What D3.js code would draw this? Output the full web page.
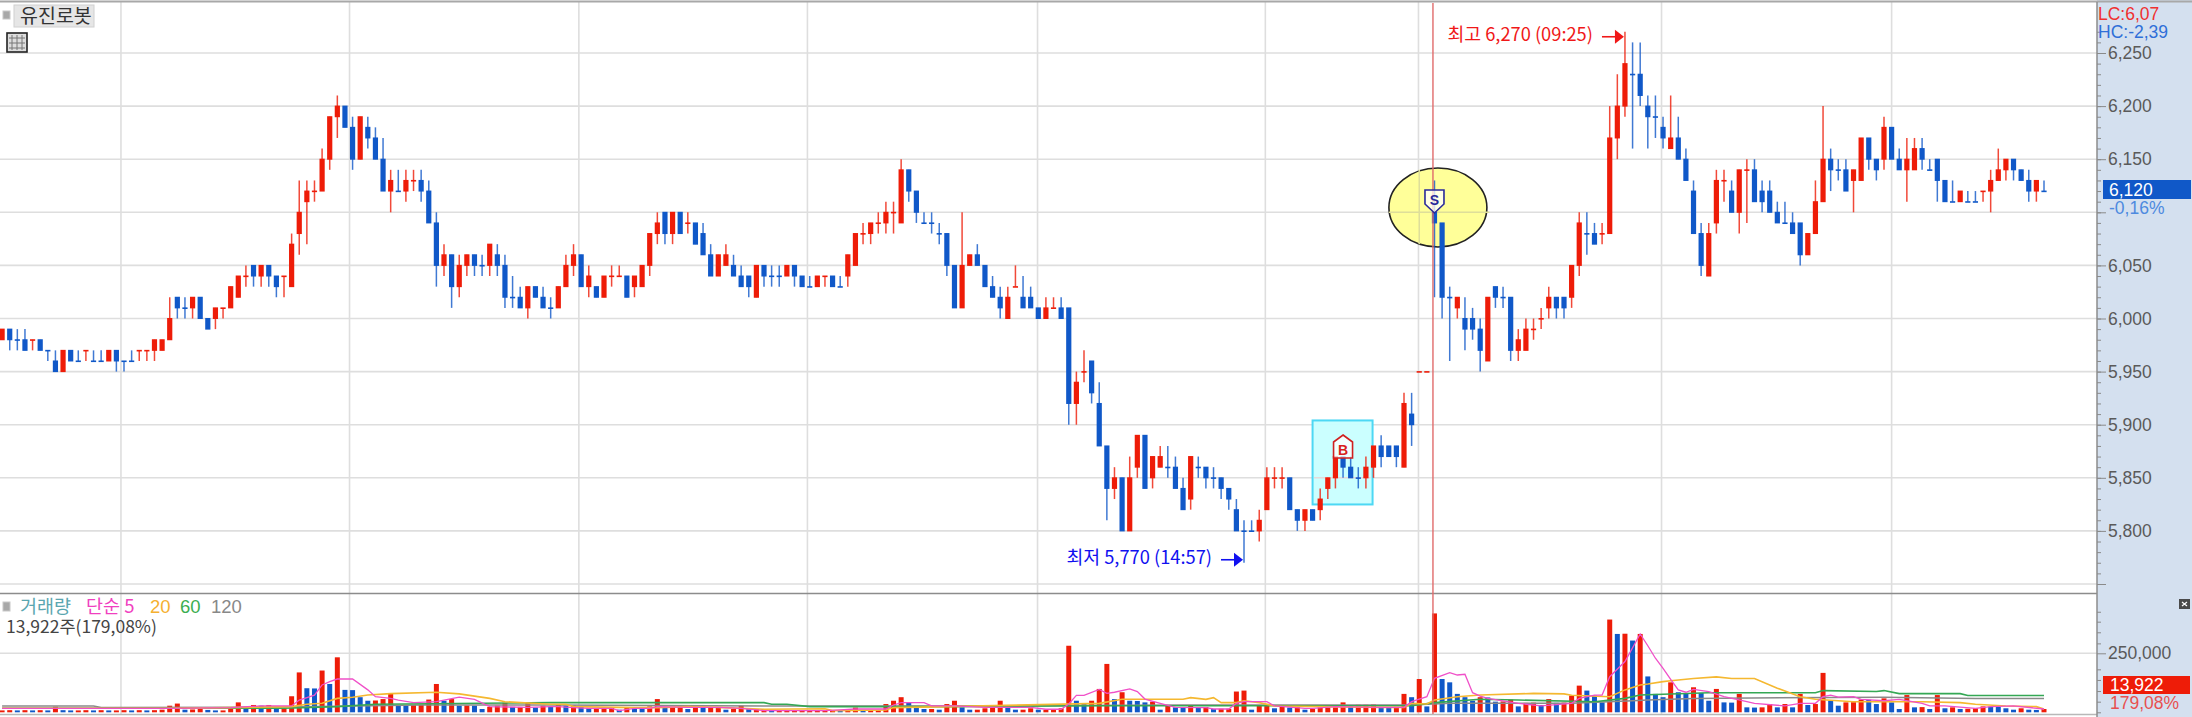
<!DOCTYPE html>
<html>
<head>
<meta charset="utf-8">
<script src="https://cdn.jsdelivr.net/npm/d3@7"></script>
<style>
  body { margin: 0; background: #fff; }
  svg { display: block; }
  text { font-family: "Noto Sans CJK KR", "Liberation Sans", sans-serif; }
  .num { font-family: "Liberation Sans", sans-serif; }
</style>
</head>
<body>
<svg id="chart"></svg>
<script>
// candle values
const opens = [
  5980,5990,5980,5980,5980,5980,5970,5960,5950,5970,
  5960,5970,5960,5960,5960,5970,5960,5960,5970,5970,
  5970,5970,5980,6020,6010,6010,6020,6000,6000,6010,
  6010,6020,6040,6050,6040,6050,6040,6040,6030,6080,
  6110,6120,6120,6150,6190,6200,6180,6150,6180,6170,
  6150,6120,6120,6120,6130,6130,6120,6090,6050,6060,
  6030,6050,6060,6050,6050,6060,6050,6020,6020,6010,
  6030,6020,6010,6010,6030,6050,6060,6030,6030,6020,
  6040,6040,6040,6030,6030,6050,6080,6100,6080,6100,
  6090,6090,6080,6060,6040,6050,6050,6040,6040,6020,
  6050,6040,6040,6040,6050,6040,6030,6030,6040,6040,
  6030,6040,6050,6080,6080,6090,6090,6100,6090,6140,
  6120,6090,6090,6080,6080,6050,6010,6050,6060,6050,
  6030,6020,6000,6030,6020,6020,6010,6000,6010,6010,
  6010,5920,5950,5960,5920,5880,5840,5850,5800,5860,
  5890,5850,5860,5860,5860,5840,5830,5860,5860,5850,
  5850,5840,5820,5800,5800,5800,5820,5850,5850,5850,
  5820,5810,5820,5820,5840,5850,5870,5860,5850,5850,
  5860,5880,5880,5880,5860,5910,5950,5950,6100,6090,
  6020,6010,6000,6000,5990,5960,6030,6020,6020,5970,
  5970,5990,6000,6010,6020,6020,6020,6050,6080,6080,
  6080,6080,6170,6200,6230,6230,6200,6190,6180,6160,
  6170,6150,6120,6080,6040,6090,6130,6120,6100,6140,
  6140,6120,6120,6100,6090,6090,6090,6060,6080,6110,
  6150,6140,6140,6130,6130,6170,6150,6150,6180,6150,
  6140,6140,6160,6140,6150,6130,6110,6110,6110,6110,
  6120,6120,6130,6140,6150,6140,6130,6120,6120
];
const closes = [
  5990,5980,5980,5970,5980,5970,5970,5950,5970,5960,
  5960,5970,5960,5960,5970,5960,5960,5960,5970,5970,
  5980,5980,6000,6010,6010,6020,6000,5990,6010,6010,
  6030,6040,6040,6040,6050,6040,6030,6040,6070,6100,
  6120,6120,6150,6190,6200,6180,6150,6190,6170,6150,
  6120,6130,6120,6130,6130,6120,6090,6050,6060,6030,
  6050,6060,6050,6050,6070,6050,6020,6020,6010,6030,
  6020,6010,6010,6030,6050,6060,6030,6040,6020,6040,
  6040,6040,6020,6040,6050,6080,6090,6080,6100,6080,
  6090,6070,6060,6040,6060,6060,6040,6030,6030,6050,
  6040,6040,6040,6050,6040,6030,6030,6040,6040,6030,
  6030,6060,6080,6080,6090,6090,6100,6100,6140,6120,
  6100,6090,6090,6080,6050,6010,6050,6060,6050,6030,
  6020,6010,6020,6030,6010,6010,6000,6010,6010,6000,
  5920,5940,5950,5930,5880,5840,5850,5800,5850,5890,
  5840,5870,5870,5860,5840,5820,5870,5860,5850,5850,
  5840,5830,5800,5800,5800,5810,5850,5850,5850,5820,
  5810,5820,5810,5830,5850,5870,5860,5850,5850,5860,
  5880,5870,5870,5870,5920,5900,5950,5950,6090,6020,
  6020,6020,5990,5990,5970,6020,6020,6020,5970,5980,
  5990,5990,6000,6020,6010,6010,6050,6090,6080,6070,
  6080,6170,6200,6240,6230,6210,6190,6190,6170,6170,
  6150,6130,6080,6050,6080,6130,6130,6100,6140,6140,
  6110,6110,6100,6090,6090,6080,6060,6080,6110,6150,
  6140,6140,6120,6140,6170,6150,6140,6180,6150,6140,
  6150,6160,6150,6140,6130,6110,6110,6120,6110,6110,
  6120,6130,6140,6150,6140,6130,6120,6130,6120
];
const highs = [
  5990,5990,5990,5990,5980,5980,5970,5970,5970,5970,
  5970,5970,5970,5970,5970,5970,5960,5970,5970,5970,
  5980,5980,6020,6020,6020,6020,6020,6000,6010,6010,
  6030,6040,6050,6050,6050,6050,6040,6040,6080,6130,
  6130,6130,6160,6190,6210,6200,6190,6190,6190,6180,
  6170,6140,6140,6140,6140,6140,6130,6100,6070,6060,
  6060,6060,6060,6060,6070,6070,6060,6040,6030,6030,
  6030,6030,6020,6030,6060,6070,6060,6050,6030,6040,
  6050,6050,6040,6040,6050,6080,6100,6100,6100,6100,
  6100,6090,6090,6070,6060,6070,6060,6050,6040,6050,
  6050,6050,6050,6050,6050,6040,6040,6040,6040,6040,
  6040,6060,6080,6090,6090,6100,6110,6110,6150,6140,
  6120,6100,6100,6090,6080,6050,6100,6060,6070,6050,
  6040,6030,6030,6050,6040,6030,6010,6020,6020,6020,
  6010,5950,5970,5960,5940,5880,5860,5850,5870,5890,
  5890,5870,5880,5880,5870,5850,5870,5870,5860,5860,
  5850,5840,5830,5810,5810,5820,5860,5860,5860,5850,
  5820,5820,5820,5840,5850,5870,5870,5870,5860,5870,
  5880,5890,5880,5880,5930,5930,5950,5950,6130,6090,
  6030,6020,6020,6010,6000,6020,6030,6030,6020,5990,
  6000,6000,6010,6030,6020,6020,6050,6100,6100,6090,
  6090,6200,6230,6270,6260,6260,6210,6210,6190,6210,
  6190,6160,6130,6090,6090,6140,6140,6130,6140,6150,
  6150,6130,6130,6110,6110,6100,6090,6080,6130,6200,
  6160,6150,6150,6140,6170,6170,6150,6190,6180,6160,
  6170,6170,6170,6150,6150,6130,6130,6120,6120,6120,
  6120,6140,6160,6150,6150,6140,6140,6130,6130
];
const lows = [
  5980,5970,5970,5970,5970,5970,5960,5950,5950,5960,
  5960,5960,5960,5960,5960,5950,5950,5960,5960,5960,
  5960,5970,5980,6000,6000,6000,6000,5990,5990,6000,
  6010,6020,6030,6030,6030,6030,6020,6020,6030,6060,
  6070,6110,6120,6140,6170,6180,6140,6150,6160,6150,
  6120,6100,6120,6110,6120,6110,6090,6030,6040,6010,
  6020,6040,6040,6040,6040,6040,6010,6010,6010,6000,
  6020,6010,6000,6010,6030,6040,6030,6020,6020,6020,
  6030,6040,6020,6020,6030,6040,6070,6070,6070,6080,
  6080,6070,6060,6040,6040,6050,6040,6030,6020,6020,
  6030,6030,6030,6040,6030,6030,6030,6030,6030,6030,
  6030,6030,6050,6070,6070,6080,6080,6080,6090,6110,
  6090,6090,6080,6070,6040,6010,6010,6050,6050,6030,
  6020,6000,6000,6030,6010,6010,6000,6000,6010,6000,
  5900,5900,5940,5920,5880,5810,5830,5800,5800,5850,
  5840,5840,5860,5850,5840,5820,5820,5850,5840,5840,
  5830,5820,5800,5770,5800,5790,5820,5840,5840,5820,
  5800,5800,5810,5810,5830,5840,5850,5850,5840,5840,
  5850,5860,5870,5860,5860,5880,5950,5950,6020,6000,
  5960,6000,5970,5980,5950,5960,6010,6010,5960,5960,
  5970,5980,5990,6000,6000,6000,6010,6040,6060,6070,
  6070,6080,6150,6190,6160,6200,6160,6170,6160,6160,
  6150,6130,6080,6040,6040,6080,6110,6100,6080,6090,
  6110,6100,6100,6090,6090,6080,6050,6060,6080,6110,
  6120,6130,6120,6100,6130,6140,6130,6140,6150,6140,
  6110,6140,6140,6140,6110,6110,6110,6110,6110,6110,
  6110,6100,6130,6130,6130,6130,6110,6110,6120
];
// candles with open == close that are drawn red
const redDojis = [4,11,18,19,29,32,37,41,54,80,81,90,108,113,115,117,133,138,142,167,168,186,187,201,202,210,226,229,260];

// volume in thousands of shares
const volumes = [
  8,9,8,9,8,9,8,24,9,8,
  8,9,8,9,8,8,9,8,9,8,
  9,11,28,37,11,12,14,10,8,8,
  17,42,20,31,28,31,14,17,68,169,
  102,101,177,120,233,95,94,64,49,50,
  56,78,31,30,31,31,54,120,49,56,
  28,29,28,14,23,28,40,23,23,40,
  20,28,25,31,28,29,25,17,17,20,
  20,11,20,17,14,25,56,20,20,25,
  14,23,20,20,20,11,14,28,14,14,
  14,8,8,8,8,8,8,8,8,8,
  7,7,20,8,8,8,35,49,64,40,
  25,14,14,11,35,49,21,11,11,17,
  23,49,23,11,11,17,11,11,11,17,
  282,49,35,49,99,205,56,85,49,48,
  42,45,11,31,21,20,31,21,22,14,
  15,15,88,92,11,28,29,17,25,20,
  21,11,14,20,20,21,42,31,32,32,
  33,23,20,23,78,64,141,25,419,141,
  127,78,64,49,64,63,45,46,54,25,
  40,41,31,56,40,41,71,113,92,71,
  42,393,332,333,304,332,152,78,64,127,
  85,78,106,82,49,99,42,41,78,21,
  20,21,35,21,35,21,78,31,35,167,
  49,28,42,43,54,53,35,59,42,14,
  73,21,22,14,73,17,21,14,15,17,
  25,24,23,17,11,17,11,10,13.922
];

// moving average lines: candle number and reading at each bend
const ma5At = [0,10,22,30,34,36,38,39,41,42,43,44,46,48,49,51,52,54,57,58,60,62,64,69,72,73,75,77,80,81,83,85,86,90,94,97,100,108,110,112,116,117,118,121,122,125,129,130,135,137,139,140,141,142,144,145,146,148,149,150,152,154,158,159,161,162,163,166,167,171,172,175,181,184,185,187,188,190,191,192,193,194,195,199,202,206,207,209,210,211,213,215,216,217,218,219,220,221,222,224,226,229,230,234,236,238,239,240,241,243,244,247,249,252,253,255,259,261,264,268];
const ma5Vals = [17,17,17,20,27,27,27,52,73,116,130,141,141,95,66,59,52,41,45,52,64,55,24,21,24,24,20,17,17,7,17,17,24,21,21,17,7,7,10,14,14,31,41,41,27,27,21,21,21,13,13,35,72,72,97,80,85,99,88,56,38,21,20,14,14,38,45,45,27,17,17,24,21,21,45,66,144,168,158,161,83,69,59,38,27,38,59,73,73,151,215,332,282,229,186,140,95,85,97,88,66,45,38,27,38,38,66,73,64,66,55,49,55,38,27,27,17,24,27,14];
const ma20At = [0,22,30,38,40,42,44,46,48,51,57,60,64,66,72,74,75,83,86,90,94,100,108,109,116,117,124,144,147,155,156,158,159,160,162,163,165,167,181,184,185,187,188,191,194,201,205,206,211,213,215,216,218,219,222,225,227,230,233,236,238,243,252,257,259,263,267,268];
const ma20Vals = [17,17,20,24,34,38,59,64,73,79,85,78,59,45,34,34,24,20,20,24,21,13,15,7,10,20,24,38,55,55,62,55,62,41,41,49,41,27,21,21,38,35,52,66,73,80,78,72,66,95,116,120,130,134,143,150,143,143,102,66,55,45,45,41,34,27,24,14];
const ma60At = [0,27,37,44,49,72,100,101,103,106,124,144,185,188,194,199,209,213,215,224,238,239,246,247,249,257,258,268];
const ma60Vals = [17,17,17,24,34,41,41,34,34,24,24,28,28,41,55,52,45,59,73,83,83,92,88,92,79,79,71,71];
const ma120At = [0,12,13,37,55,72,100,124,155,185,190,206,214,216,222,247,259,268];
const ma120Vals = [27,27,20,22,31,31,27,27,31,31,38,38,49,52,59,64,59,59];

// axis ticks
const priceTicks = [6250,6200,6150,6100,6050,6000,5950,5900,5850,5800,5750];
const priceLabels = [6250,6200,6150,6050,6000,5950,5900,5850,5800];
const priceMinorTicks = d3.range(5750, 6280, 10);
const volTicks = [250];
const volMinorTicks = [0,45,90,137,182,292,339,384,426];
// candle numbers of the vertical grid lines
const timeGrid = [15.6,45.6,75.7,105.7,135.9,165.8,185.9,217.8,248];

const width = 2192, height = 717;
const plotRight = 2097;
const red = "#ee1c08", blue = "#1058c8";

const svg = d3.select("#chart").attr("width", width).attr("height", height);

const x = d3.scaleLinear().domain([0, opens.length - 1]).range([2.1, 2044]);
const yPrice = d3.scaleLinear().domain([6250, 5750]).range([53, 584]);
const yVol = d3.scaleLinear().domain([0, 250]).range([712.3, 653.3]);

// right side panel
svg.append("rect").attr("x", plotRight).attr("y", 0).attr("width", width - plotRight).attr("height", height).attr("fill", "#d4e0ef");

// grid
const grid = svg.append("g").attr("stroke", "#dedede").attr("stroke-width", 1.6);
grid.selectAll(".gx").data(timeGrid).enter().append("line")
  .attr("x1", d => x(d)).attr("x2", d => x(d)).attr("y1", 2).attr("y2", 715);
grid.selectAll(".gy").data(priceTicks).enter().append("line")
  .attr("x1", 0).attr("x2", plotRight).attr("y1", d => yPrice(d)).attr("y2", d => yPrice(d));
grid.selectAll(".gv").data(volTicks).enter().append("line")
  .attr("x1", 0).attr("x2", plotRight).attr("y1", d => yVol(d)).attr("y2", d => yVol(d));

// buy box and sell ellipse sit under the candles
svg.append("rect").attr("x", x(172)).attr("y", yPrice(5904)).attr("width", 60).attr("height", 84)
  .attr("fill", "#c8ffff").attr("fill-opacity", 0.95).attr("stroke", "#4dd8f4").attr("stroke-width", 2);
svg.append("line").attr("x1", x(172.2)).attr("x2", x(179.6)).attr("y1", yPrice(5850)).attr("y2", yPrice(5850))
  .attr("stroke", "#e4dada").attr("stroke-width", 1.5);
svg.append("ellipse").attr("cx", x(188.45)).attr("cy", yPrice(6104.5)).attr("rx", 49).attr("ry", 39.5)
  .attr("fill", "#ffff99").attr("stroke", "#222").attr("stroke-width", 1.6);
svg.append("line").attr("x1", x(182)).attr("x2", x(195.2)).attr("y1", yPrice(6100)).attr("y2", yPrice(6100))
  .attr("stroke", "#dede9a").attr("stroke-width", 1.5);
svg.append("line").attr("x1", x(186)).attr("x2", x(186)).attr("y1", yPrice(6140)).attr("y2", yPrice(6070))
  .attr("stroke", "#dede9a").attr("stroke-width", 1.5);

// candles
const candleColor = i => closes[i] > opens[i] || redDojis.includes(i) ? red : blue;
const candleData = opens.map((o, i) => i);
const candles = svg.append("g");
candles.selectAll(".wick").data(candleData).enter().append("line")
  .attr("x1", i => x(i)).attr("x2", i => x(i))
  .attr("y1", i => yPrice(highs[i])).attr("y2", i => yPrice(lows[i]))
  .attr("stroke", candleColor).attr("stroke-opacity", 0.8).attr("stroke-width", 1.5);
candles.selectAll(".body").data(candleData).enter().append("rect")
  .attr("x", i => x(i) - 2.6).attr("width", 5.2)
  .attr("y", i => yPrice(Math.max(opens[i], closes[i])) - 0.5)
  .attr("height", i => Math.max(1.6, Math.abs(yPrice(opens[i]) - yPrice(closes[i])) + 1))
  .attr("fill", candleColor);

// volume bars: red when volume rose, blue when it fell
const volColor = i => i === 0 || volumes[i] >= volumes[i - 1] ? red : blue;
svg.append("g").selectAll("rect").data(candleData).enter().append("rect")
  .attr("x", i => x(i) - 2.5).attr("width", 5)
  .attr("y", i => yVol(volumes[i])).attr("height", i => yVol(0) - yVol(volumes[i]))
  .attr("fill", volColor);

// moving averages
const drawMa = (at, vals, color, w) => {
  const line = d3.line().x(d => x(d[0])).y(d => yVol(d[1]));
  svg.append("path").attr("d", line(at.map((a, i) => [a, vals[i]])))
    .attr("fill", "none").attr("stroke", color).attr("stroke-width", w);
};
drawMa(ma120At, ma120Vals, "#8a8a8a", 1.5);
drawMa(ma60At, ma60Vals, "#35a855", 1.6);
drawMa(ma20At, ma20Vals, "#f5b830", 1.6);
drawMa(ma5At, ma5Vals, "#f050c8", 1.3);

// panel separators and frame
svg.append("line").attr("x1", 0).attr("x2", plotRight).attr("y1", 593.5).attr("y2", 593.5).attr("stroke", "#8c8c8c").attr("stroke-width", 1.5);
svg.append("line").attr("x1", 0).attr("x2", plotRight).attr("y1", 714.5).attr("y2", 714.5).attr("stroke", "#b8b8b8").attr("stroke-width", 1.5);
svg.append("line").attr("x1", 0).attr("x2", width).attr("y1", 1.5).attr("y2", 1.5).attr("stroke", "#a8a8a8").attr("stroke-width", 2);
svg.append("line").attr("x1", plotRight).attr("x2", plotRight).attr("y1", 2).attr("y2", height).attr("stroke", "#8c8c8c").attr("stroke-width", 1.5);

// the red marker line of the signal candle
svg.append("line").attr("x1", x(187.8)).attr("x2", x(187.8)).attr("y1", 3).attr("y2", 714)
  .attr("stroke", "#e06a6a").attr("stroke-width", 1.4);

// axes
const styleAxis = g => {
  g.select(".domain").remove();
  g.selectAll("line").attr("stroke", "#8a8a8a");
  g.selectAll("text").attr("class", "num").attr("fill", "#5a5a5a").attr("font-size", 17.5);
};
svg.append("g").attr("transform", `translate(${plotRight},0)`)
  .call(d3.axisRight(yPrice).tickValues(priceMinorTicks).tickSize(4).tickFormat(""))
  .call(styleAxis);
svg.append("g").attr("transform", `translate(${plotRight},0)`)
  .call(d3.axisRight(yPrice).tickValues(priceTicks).tickSize(9).tickPadding(2)
    .tickFormat(d => priceLabels.includes(d) ? d3.format(",")(d) : ""))
  .call(styleAxis);
svg.append("g").attr("transform", `translate(${plotRight},0)`)
  .call(d3.axisRight(yVol).tickValues(volMinorTicks).tickSize(4).tickFormat(""))
  .call(styleAxis);
svg.append("g").attr("transform", `translate(${plotRight},0)`)
  .call(d3.axisRight(yVol).tickValues(volTicks).tickSize(9).tickPadding(2).tickFormat(d => d3.format(",")(d * 1000)))
  .call(styleAxis);

// text helper
const label = (str, px, py, color, size, cls) => svg.append("text")
  .attr("x", px).attr("y", py).attr("dy", "0.36em").attr("fill", color).attr("font-size", size)
  .attr("class", cls || null).text(str);

// right panel values
label("LC:6,07", 2098, 14, "#f03030", 17.5, "num");
label("HC:-2,39", 2098, 32, "#2f6fd8", 17.5, "num");
svg.append("rect").attr("x", 2103).attr("y", 180).attr("width", 88).attr("height", 19).attr("fill", blue);
label("6,120", 2109, 189.5, "#fff", 17.5, "num");
label("-0,16%", 2109, 208, "#4d8adf", 17.5, "num");
svg.append("rect").attr("x", 2103).attr("y", 676).attr("width", 87).attr("height", 18).attr("fill", red);
label("13,922", 2110, 685, "#fff", 17.5, "num");
label("179,08%", 2110, 703, "#e85050", 17.5, "num");
svg.append("rect").attr("x", 2179).attr("y", 599).attr("width", 11).attr("height", 10).attr("fill", "#4a4a4a");
svg.append("path").attr("d", "M2182 602L2187 606M2187 602L2182 606").attr("stroke", "#fff").attr("stroke-width", 1.2);

// title buttons
svg.append("rect").attr("x", 3).attr("y", 11).attr("width", 7).attr("height", 8).attr("fill", "#a8a8a8").attr("stroke", "#c8c8c8");
svg.append("rect").attr("x", 14).attr("y", 5).attr("width", 80).attr("height", 22).attr("fill", "#e6e6e6").attr("stroke", "#d0d0d0");
label("유진로봇", 20, 15.5, "#333", 19.5);
svg.append("rect").attr("x", 7).attr("y", 33).attr("width", 20).attr("height", 19).attr("fill", "#ddd").attr("stroke", "#222").attr("stroke-width", 1.6);
svg.append("path").attr("d", "M9 38H25M9 43H25M9 48H25M12 35V50M17 35V50M22 35V50").attr("stroke", "#777").attr("fill", "none");

// volume legend
svg.append("rect").attr("x", 3).attr("y", 602).attr("width", 7).attr("height", 9).attr("fill", "#a8a8a8").attr("stroke", "#c8c8c8");
label("거래량", 20, 606, "#5aa6b0", 18.5);
label("단순 5", 86, 606, "#f040c0", 18.5);
label("20", 150, 606, "#f5b030", 18.5, "num");
label("60", 180, 606, "#3cae50", 18.5, "num");
label("120", 211, 606, "#888", 18.5, "num");
label("13,922주(179,08%)", 6, 627, "#444", 17.5);

// high and low callouts
const callout = (idx, price, dy, str, color) => {
  const tip = x(idx) - 1, yy = yPrice(price) + dy;
  svg.append("path").attr("d", `M${tip - 22} ${yy}H${tip - 6}`).attr("stroke", color).attr("stroke-width", 1.6);
  svg.append("path").attr("d", `M${tip} ${yy}l-9 -7v14z`).attr("fill", color);
  label(str, tip - 31, yy - 2, color, 18.3).attr("text-anchor", "end");
};
callout(213, 6270, 5, "최고 6,270 (09:25)", "#f01818");
callout(163, 5770, -3, "최저 5,770 (14:57)", "#1010f0");

// buy and sell signal markers
const marker = (cx, top, path, stroke) => {
  svg.append("path").attr("transform", `translate(${cx},${top})`).attr("d", path)
    .attr("fill", "#fff").attr("fill-opacity", 0.75).attr("stroke", stroke).attr("stroke-width", 1.6);
};
marker(x(176), 435, "M0 0L9.5 7V23H-9.5V7Z", "#d02020");
svg.append("text").attr("x", x(176)).attr("y", 450).attr("dy", "0.36em").attr("text-anchor", "middle")
  .attr("fill", "#d82020").attr("font-size", 14).attr("font-weight", "bold").attr("class", "num").text("B");
marker(x(188), 190, "M-9.5 0H9.5V14L0 23L-9.5 14Z", "#2a2a9a");
svg.append("text").attr("x", x(188)).attr("y", 199.5).attr("dy", "0.36em").attr("text-anchor", "middle")
  .attr("fill", "#2a2a9a").attr("font-size", 14).attr("font-weight", "bold").attr("class", "num").text("S");
</script>
</body>
</html>
